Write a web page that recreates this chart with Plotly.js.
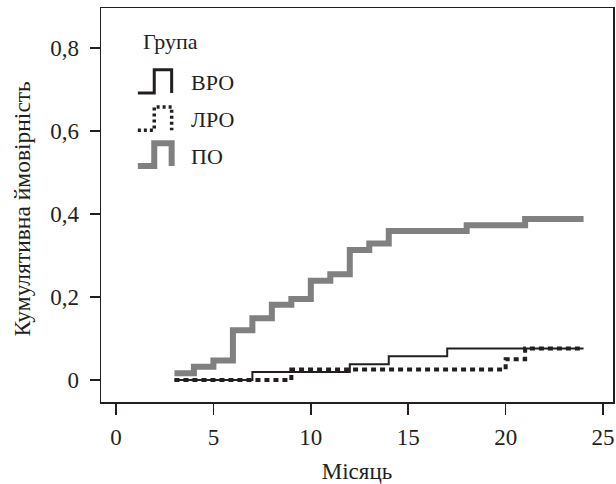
<!DOCTYPE html>
<html>
<head>
<meta charset="utf-8">
<script src="https://cdn.plot.ly/plotly-3.0.1.min.js"></script>
<style>html,body{margin:0;padding:0;background:#fff;}#chart{width:616px;height:484px;}</style>
</head>
<body>
<div id="chart"></div>
<script>
// Data
var monthsPO  = [3, 4, 5, 6, 7, 8, 9, 10, 11, 12, 13, 14, 18, 21, 24];
var probPO    = [0.016, 0.032, 0.047, 0.120, 0.149, 0.181, 0.195, 0.239, 0.255, 0.313, 0.329, 0.359, 0.373, 0.388, 0.388];
var monthsVRO = [3, 7, 12, 14, 17, 24];
var probVRO   = [0, 0.019, 0.038, 0.057, 0.076, 0.076];
var monthsLRO = [3, 9, 20, 21, 24];
var probLRO   = [0, 0.025, 0.050, 0.076, 0.076];
var groupNames = ['ВРО', 'ЛРО', 'ПО'];
var legendTitle = 'Група';
var xTicks = [0, 5, 10, 15, 20, 25];
var yTicks = [0, 0.2, 0.4, 0.6, 0.8];
var yTickText = ['0', '0,2', '0,4', '0,6', '0,8'];
var xTitle = 'Місяць';
var yTitle = 'Кумулятивна ймовірність';

var FONT = '"Liberation Serif", "Times New Roman", serif';
var INK = '#231f20';
var GRAY = '#808080';

var traces = [
  {x: monthsPO, y: probPO, name: groupNames[2], mode: 'lines',
   line: {shape: 'hv', color: GRAY, width: 6}},
  {x: monthsVRO, y: probVRO, name: groupNames[0], mode: 'lines',
   line: {shape: 'hv', color: INK, width: 2}},
  {x: monthsLRO, y: probLRO, name: groupNames[1], mode: 'lines',
   line: {shape: 'hv', color: INK, width: 4, dash: '5px,4px'}}
];

// custom legend (step-shaped icons like the reference)
function stepIcon(x0, x1, x2, yb, yt) {
  return 'M' + x0 + ',' + yb + ' L' + x1 + ',' + yb + ' L' + x1 + ',' + yt +
         ' L' + x2 + ',' + yt + ' L' + x2 + ',' + yb;
}
var shapes = [
  {type: 'path', xref: 'paper', yref: 'paper', path: stepIcon(0.072, 0.104, 0.138, 0.784, 0.843),
   line: {color: INK, width: 3}},
  {type: 'path', xref: 'paper', yref: 'paper', path: stepIcon(0.072, 0.104, 0.138, 0.690, 0.749),
   line: {color: INK, width: 3.5, dash: '3px,3px'}},
  {type: 'path', xref: 'paper', yref: 'paper', path: stepIcon(0.072, 0.104, 0.138, 0.599, 0.657),
   line: {color: GRAY, width: 6}}
];
var annFont = {family: FONT, size: 22, color: INK};
var annotations = [
  {xref: 'paper', yref: 'paper', x: 0.078, y: 0.916, text: legendTitle, showarrow: false,
   xanchor: 'left', yanchor: 'middle', font: annFont},
  {xref: 'paper', yref: 'paper', x: 0.172, y: 0.812, text: groupNames[0], showarrow: false,
   xanchor: 'left', yanchor: 'middle', font: annFont},
  {xref: 'paper', yref: 'paper', x: 0.172, y: 0.718, text: groupNames[1], showarrow: false,
   xanchor: 'left', yanchor: 'middle', font: annFont},
  {xref: 'paper', yref: 'paper', x: 0.172, y: 0.624, text: groupNames[2], showarrow: false,
   xanchor: 'left', yanchor: 'middle', font: annFont},
  {xref: 'paper', yref: 'paper', x: -0.155, y: 0.49, text: yTitle, showarrow: false,
   textangle: -90, xanchor: 'center', yanchor: 'middle', font: {family: FONT, size: 23.5, color: INK}}
];

var layout = {
  width: 616, height: 484,
  margin: {l: 101, r: 3, t: 8, b: 82},
  paper_bgcolor: '#fff', plot_bgcolor: '#fff',
  showlegend: false,
  font: {family: FONT, size: 23, color: INK},
  xaxis: {
    range: [-0.77, 25.51], tickvals: xTicks, ticktext: xTicks.map(String),
    ticks: 'outside', ticklen: 11, tickwidth: 1.5, tickcolor: INK,
    showline: true, linecolor: INK, linewidth: 1.5, mirror: true,
    showgrid: false, zeroline: false, ticklabelstandoff: 3,
    tickfont: {family: FONT, size: 23, color: INK},
    title: {text: xTitle, font: {family: FONT, size: 23, color: INK}, standoff: 14}
  },
  yaxis: {
    range: [-0.053, 0.896], tickvals: yTicks, ticktext: yTickText,
    ticks: 'outside', ticklen: 10, tickwidth: 1.5, tickcolor: INK,
    showline: true, linecolor: INK, linewidth: 1.5, mirror: true,
    showgrid: false, zeroline: false, ticklabelstandoff: 6,
    tickfont: {family: FONT, size: 23, color: INK}
  },
  shapes: shapes,
  annotations: annotations
};

Plotly.newPlot('chart', traces, layout, {displayModeBar: false, staticPlot: true});
</script>
</body>
</html>
